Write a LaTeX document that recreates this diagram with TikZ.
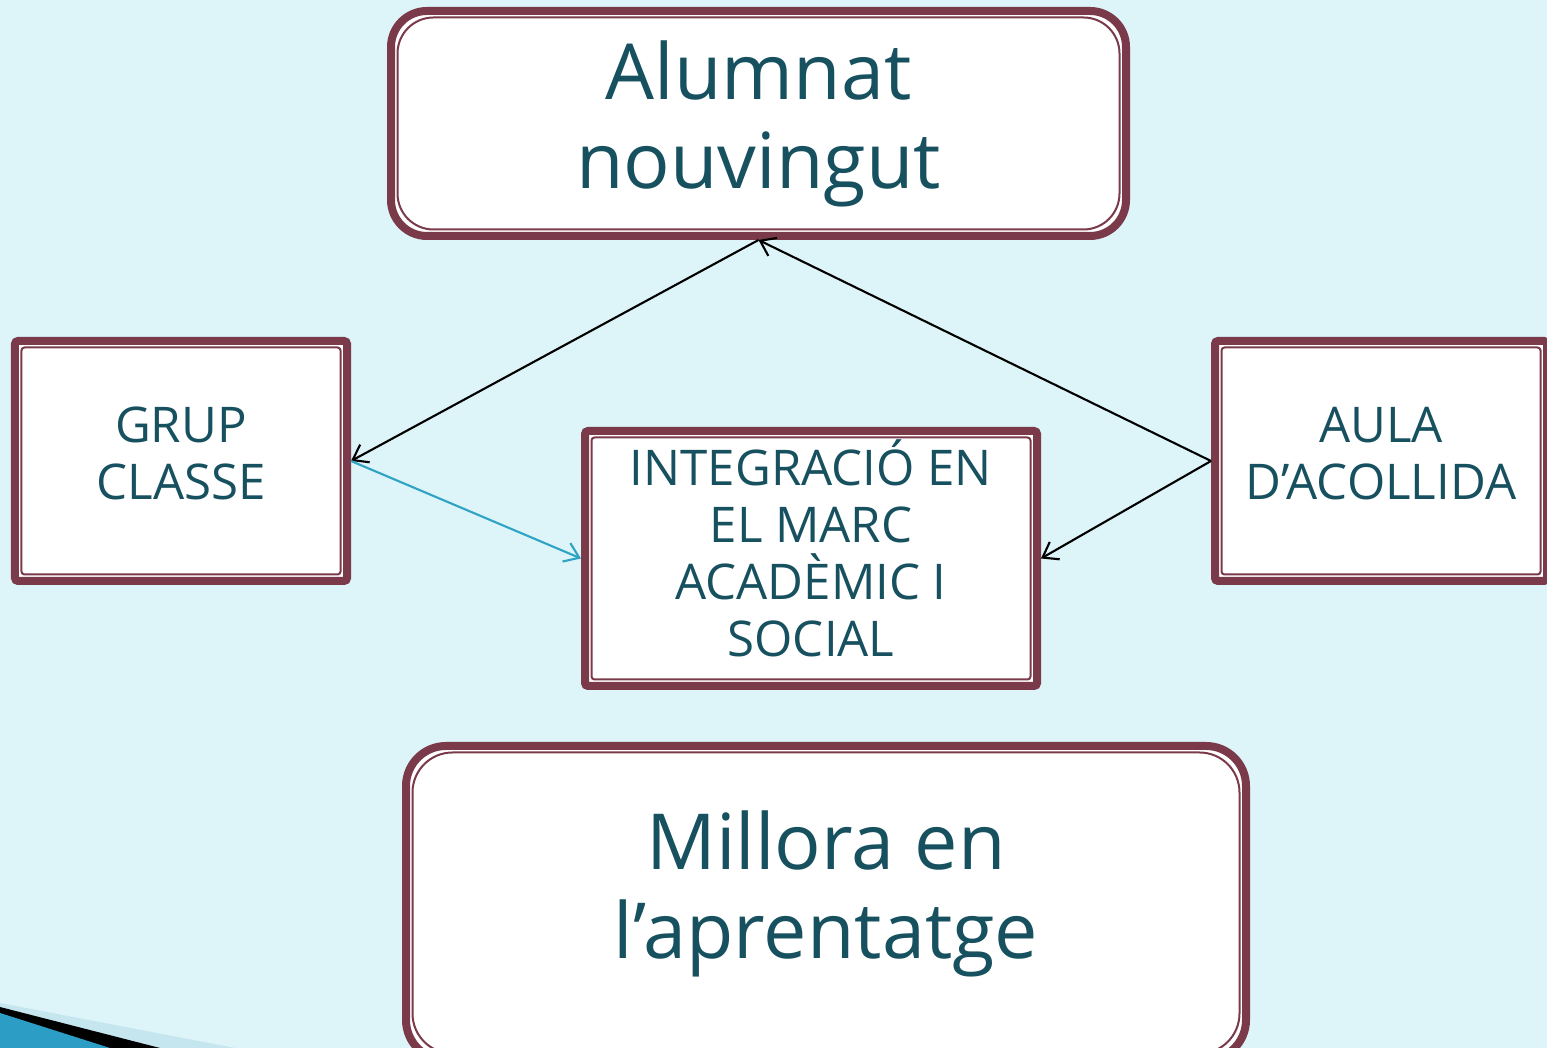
\documentclass[tikz,border=0pt]{standalone}
\usepackage{fontspec}
\setmainfont{Open Sans}
\usetikzlibrary{arrows.meta,positioning}
\definecolor{bgcyan}{HTML}{DDF4F9}
\definecolor{maroon}{HTML}{7B3A4A}
\definecolor{tealtext}{HTML}{17515F}
\definecolor{lineblue}{HTML}{2FA3C4}
\definecolor{stripe}{HTML}{C5E5EF}
\definecolor{themeblue}{HTML}{2C9DC4}

\begin{document}
\begin{tikzpicture}[% styles for all boxes and arrows
    every node/.style={
        align=center,       % so that "\\" breaks the line
        text=tealtext,
        inner sep=0pt
        },
    box/.style={
        rectangle,draw=maroon,line width=0.08cm,fill=white,rounded corners=#1,
        path picture={\draw[maroon,line width=0.02cm,rounded corners=#1]
            ([shift={(0.065,0.065)}]path picture bounding box.south west) rectangle
            ([shift={(-0.065,-0.065)}]path picture bounding box.north east);}
        },
    box/.default=0.03cm,
    bigtext/.style={font=\fontsize{22}{25.3}\selectfont},
    smalltext/.style={font=\fontsize{14}{16.2}\selectfont},
    lift/.style={text depth=#1},    % pushes the text a little up
    every edge/.style={draw,line width=0.6pt,-{Straight Barb[length=0.14cm,width=0.2cm]}}
    ]
% background of the slide
\fill[bgcyan] (0,0) rectangle (15.47,10.48);
\useasboundingbox (0,0) rectangle (15.47,10.48);
\clip (0,0) rectangle (15.47,10.48);
% corner of the slide theme
\fill[stripe] (0,0.45) -- (2.35,0) -- (0,0) -- cycle;
\fill[black] (0,0.41) -- (1.6,0) -- (0,0) -- cycle;
\fill[themeblue] (0,0.35) -- (1.1,0) -- (0,0) -- cycle;

\node[box=0.36cm,bigtext,minimum width=7.35cm,minimum height=2.25cm](R1) at (7.585,9.245){Alumnat\\nouvingut};
\node[box,smalltext,lift=0.16cm,minimum width=3.32cm,minimum height=2.40cm](R2) at (1.81,5.87){GRUP\\CLASSE};
\node[box,smalltext,lift=0.2cm,minimum width=4.52cm,minimum height=2.55cm](R3) at (8.11,4.895){INTEGRACIÓ EN\\EL MARC\\ACADÈMIC I\\SOCIAL};
\node[box,smalltext,lift=0.16cm,minimum width=3.32cm,minimum height=2.40cm](R4) at (13.81,5.87){AULA\\D’ACOLLIDA};
\node[box=0.4cm,bigtext,lift=0.36cm,minimum width=8.40cm,minimum height=3.14cm](R5) at (8.26,1.45){Millora en\\l’aprentatge};
\path
(R1.south) edge (R2.east)
(R4.west) edge (R1.south)
(R4.west) edge (R3.east)
(R2.east) edge[lineblue] (R3.west)
;
\end{tikzpicture}
\end{document}
